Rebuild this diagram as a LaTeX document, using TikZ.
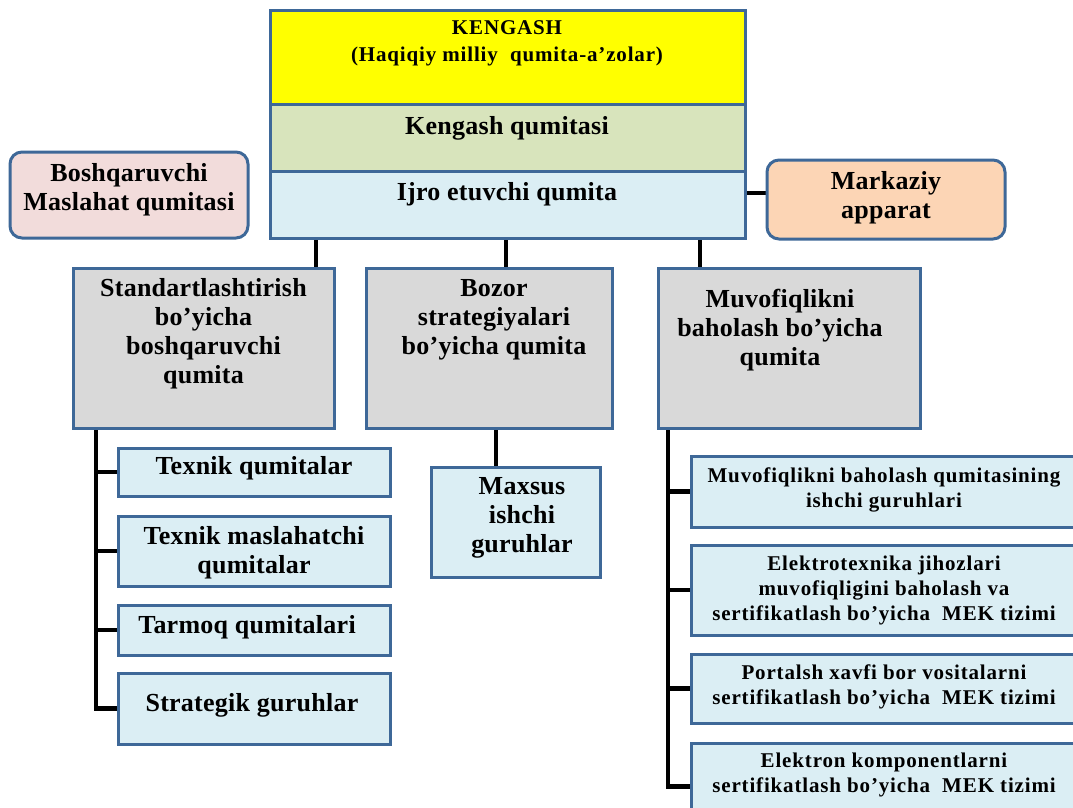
\documentclass[tikz,border=0pt]{standalone}
\usepackage{fontspec}
\setmainfont{Liberation Serif}
\newfontfamily\boxfont{Liberation Serif}[LetterSpace=1]
\newfontfamily\notefont{Liberation Serif}[LetterSpace=4]
\usetikzlibrary{positioning,backgrounds}
\definecolor{edgeblue}{RGB}{62,104,152}
\definecolor{yellowbg}{RGB}{255,255,0}
\definecolor{olivebg}{RGB}{216,228,188}
\definecolor{palebg}{RGB}{219,238,244}
\definecolor{greybg}{RGB}{217,217,217}
\definecolor{pinkbg}{RGB}{242,220,219}
\definecolor{peachbg}{RGB}{252,213,181}
\tikzset{
  box/.style={draw=edgeblue,line width=3pt,inner sep=0},
  boxg/.style={box,fill=greybg},
  boxl/.style={box,fill=palebg},
  boxr/.style={box,rounded corners=12pt},
  txtbig/.style={font=\boxfont\bfseries\fontsize{26}{29}\selectfont,align=center,inner sep=0},
  txtsmall/.style={font=\notefont\bfseries\fontsize{21}{25}\selectfont,align=center,inner sep=0},
  link/.style={line width=4.5pt,draw=black},
}

\begin{document}
\begin{tikzpicture}[x=1pt,y=-1pt]
  \useasboundingbox (0,0) rectangle (1073,807);
  \clip (0,0) rectangle (1073,807);

  % --- kengash blok -------------------------------------------------------
  \node[box,fill=yellowbg,minimum width=475,minimum height=94] (keng) at (507.5,57)  {};
  \node[box,fill=olivebg,minimum width=475,minimum height=67]  (kq)   at (507.5,137.5) {};
  \node[box,fill=palebg,minimum width=475,minimum height=67]   (ijro) at (507.5,204.5) {};
  \node[txtsmall,font=\notefont\bfseries\fontsize{21}{27}\selectfont] (kengt) at (507,43)
        {KENGASH\\(Haqiqiy milliy\ \ qumita-a’zolar)};
  \node[txtbig] (kqt)   at (507,128) {Kengash qumitasi};
  \node[txtbig] (ijrot) at (507,194) {Ijro etuvchi qumita};

  % --- yon bloklar --------------------------------------------------------
  \node[boxr,fill=pinkbg,minimum width=238,minimum height=86]  (boshq) at (129,195) {};
  \node[txtbig] (boshqt) at (129,190) {Boshqaruvchi\\Maslahat qumitasi};
  \node[boxr,fill=peachbg,minimum width=238,minimum height=79] (mark) at (886,199.5) {};
  \node[txtbig] (markt) at (886,198) {Markaziy\\apparat};

  % --- qumitalar ----------------------------------------------------------
  \node[boxg,minimum width=261,minimum height=160] (std) at (203.5,348) {};
  \node[txtbig] (stdt) at (203.5,334) {Standartlashtirish\\bo’yicha\\boshqaruvchi\\qumita};
  \node[boxg,minimum width=246,minimum height=160] (bozor) at (489,348) {};
  \node[txtbig] (bozort) at (494,319.5) {Bozor\\strategiyalari\\bo’yicha qumita};
  \node[boxg,minimum width=262,minimum height=160] (muv) at (789,348) {};
  \node[txtbig] (muvt) at (780,330.5) {Muvofiqlikni\\baholash bo’yicha\\qumita};

  % --- chap ustun ---------------------------------------------------------
  \node[boxl,minimum width=272,minimum height=48] (tq)    at (254,472)   {};
  \node[txtbig] at (254,468) {Texnik qumitalar};
  \node[boxl,minimum width=272,minimum height=70] (tm)    at (254,551)   {};
  \node[txtbig] at (254,553) {Texnik maslahatchi\\qumitalar};
  \node[boxl,minimum width=272,minimum height=50] (tar)   at (254,630)   {};
  \node[txtbig] at (247,627) {Tarmoq qumitalari};
  \node[boxl,minimum width=272,minimum height=71] (strat) at (254,708.5) {};
  \node[txtbig] at (252,705) {Strategik guruhlar};

  % --- o'rta ustun --------------------------------------------------------
  \node[boxl,minimum width=169,minimum height=110] (maxsus) at (515.5,522) {};
  \node[txtbig] at (522,517.5) {Maxsus\\ishchi\\guruhlar};

  % --- o'ng ustun ---------------------------------------------------------
  \node[boxl,minimum width=389,minimum height=71] (mq) at (885.5,491.5) {};
  \node[txtsmall] at (884,490) {Muvofiqlikni baholash qumitasining\\ishchi guruhlari};
  \node[boxl,minimum width=389,minimum height=90] (el) at (885.5,590) {};
  \node[txtsmall] at (884,590.5) {Elektrotexnika jihozlari\\muvofiqligini baholash va\\sertifikatlash bo’yicha\ \ MEK tizimi};
  \node[boxl,minimum width=389,minimum height=69] (po) at (885.5,688.5) {};
  \node[txtsmall] at (884,687) {Portalsh xavfi bor vositalarni\\sertifikatlash bo’yicha\ \ MEK tizimi};
  \node[boxl,minimum width=389,minimum height=87] (ek) at (885.5,786.5) {};
  \node[txtsmall] at (884,775) {Elektron komponentlarni\\sertifikatlash bo’yicha\ \ MEK tizimi};

  % --- bog'lanishlar ------------------------------------------------------
  \coordinate (s1) at (316,0);
  \coordinate (s2) at (506,0);
  \coordinate (s3) at (700,0);
  \coordinate (s4) at (496,0);
  \coordinate (m1) at (0,193);
  \coordinate (lt) at (96,0);
  \coordinate (rt) at (668,0);
  \begin{scope}[on background layer]
    \fill[white] (0,0) rectangle (1073,807);
    \draw[link] (ijro.south -| s1) -- (std.north -| s1);
    \draw[link] (ijro.south -| s2) -- (bozor.north -| s2);
    \draw[link] (ijro.south -| s3) -- (muv.north -| s3);
    \draw[link] (ijro.east |- m1) -- (mark.west |- m1);
    \draw[link] (bozor.south -| s4) -- (maxsus.north -| s4);

    % chap daraxt
    \draw[link] (std.south -| lt) |- (strat.west);
    \foreach \b in {tq,tm,tar} \draw[link] (lt |- \b.west) -- (\b.west);

    % o'ng daraxt
    \draw[link] (muv.south -| rt) |- (ek.west);
    \foreach \b in {mq,el,po} \draw[link] (rt |- \b.west) -- (\b.west);
  \end{scope}
\end{tikzpicture}
\end{document}
